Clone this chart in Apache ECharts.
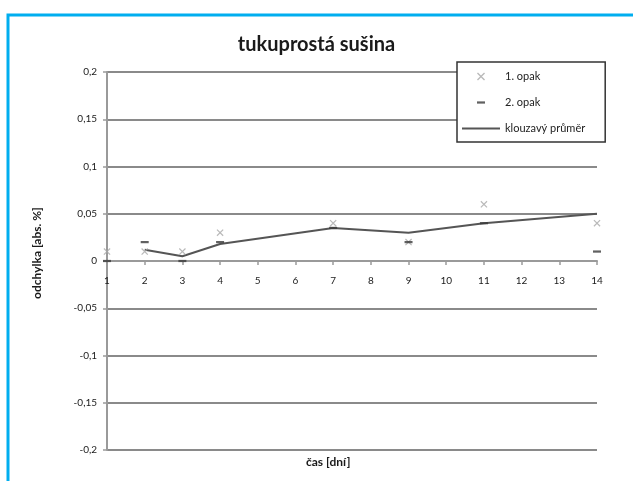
<!DOCTYPE html>
<html>
<head>
<meta charset="utf-8">
<script src="https://cdn.jsdelivr.net/npm/echarts@6/dist/echarts.min.js"></script>
<style>
  html, body { margin: 0; padding: 0; background: #fff; }
  #chart { width: 633px; height: 481px; }
</style>
</head>
<body>
<div id="chart"></div>
<script>
// Measurement days and deviations of the two replicates
const days = [1, 2, 3, 4, 7, 9, 11, 14];
const opak1 = [0.01, 0.01, 0.01, 0.03, 0.04, 0.02, 0.06, 0.04];
const opak2 = [0.0, 0.02, 0.0, 0.02, 0.035, 0.02, 0.04, 0.01];
// Moving average (starts from day 2)
const avgDays = [2, 3, 4, 7, 9, 11, 14];
const avgValues = [0.012, 0.005, 0.018, 0.035, 0.03, 0.04, 0.05];
const yTicks = [-0.2, -0.15, -0.1, -0.05, 0, 0.05, 0.1, 0.15, 0.2];

const pair = (xs, ys) => xs.map((x, i) => [x, ys[i]]);
const fmt = v => String(+(+v).toFixed(2)).replace('.', ',');

const crossPath = 'path://M0,1.2 L1.2,0 L10,8.8 L8.8,10 Z M8.8,0 L10,1.2 L1.2,10 L0,8.8 Z';
const dashPath = 'path://M0,0 M10,10 M0,3.6 L10,3.6 L10,6.4 L0,6.4 Z';
const lineIcon = 'path://M0,0 L38,0 L38,2.2 L0,2.2 Z';

// Plot area geometry; the x axis sits on the zero line in the middle
const GRID = { left: 107, right: 36, top: 72, bottom: 31 };
const plotHeight = 481 - GRID.top - GRID.bottom;
const yMin = yTicks[0], yMax = yTicks[yTicks.length - 1];
const zeroOffset = -plotHeight * (0 - yMin) / (yMax - yMin);

const chart = echarts.init(document.getElementById('chart'), null, { renderer: 'canvas' });
const FONT = 'Lato, "Open Sans", sans-serif';

chart.setOption({
  backgroundColor: '#ffffff',
  animation: false,
  textStyle: { fontFamily: FONT },
  title: {
    text: 'tukuprostá sušina',
    left: 'center',
    top: 30,
    textStyle: { fontFamily: FONT, fontSize: 20, fontWeight: 'bold', color: '#1a1a1a' }
  },
  grid: Object.assign({ containLabel: false }, GRID),
  legend: {
    orient: 'vertical',
    left: 457,
    top: 62,
    padding: [9, 20, 8, 5],
    itemWidth: 38,
    itemHeight: 8,
    itemGap: 15,
    backgroundColor: '#ffffff',
    borderColor: '#333333',
    borderWidth: 1.5,
    borderRadius: 0,
    textStyle: { fontFamily: FONT, fontSize: 11, color: '#222' },
    data: [
      { name: '1. opak' },
      { name: '2. opak' },
      { name: 'klouzavý průměr', icon: lineIcon }
    ]
  },
  xAxis: {
    type: 'value',
    min: 1,
    max: 14,
    interval: 1,
    position: 'bottom',
    offset: zeroOffset,
    axisLine: { onZero: false, lineStyle: { color: '#9a9a9a', width: 2 } },
    axisTick: { show: true, length: 4, lineStyle: { color: '#9a9a9a', width: 1.5 } },
    axisLabel: { margin: 15, fontFamily: FONT, fontSize: 10, color: '#1a1a1a' },
    splitLine: { show: false }
  },
  yAxis: {
    type: 'value',
    min: yMin,
    max: yMax,
    interval: 0.05,
    name: 'odchylka [abs. %]',
    nameLocation: 'middle',
    nameGap: 64,
    nameTextStyle: { fontFamily: FONT, fontSize: 12, fontWeight: 'bold', color: '#1a1a1a', padding: [0, 0, 0, 16] },
    axisLine: { show: true, lineStyle: { color: '#9a9a9a', width: 2 } },
    axisTick: { show: true, length: 4, lineStyle: { color: '#9a9a9a', width: 1.5 } },
    axisLabel: { margin: 10, fontFamily: FONT, fontSize: 10, color: '#1a1a1a', formatter: fmt },
    splitLine: { show: true, lineStyle: { color: '#8a8a8a', width: 2 } }
  },
  series: [
    {
      name: '1. opak',
      type: 'scatter',
      data: pair(days, opak1),
      symbol: crossPath,
      symbolSize: 7,
      itemStyle: { color: '#a8a8a8' },
      z: 3
    },
    {
      name: '2. opak',
      type: 'scatter',
      data: pair(days, opak2),
      symbol: dashPath,
      symbolSize: 8,
      itemStyle: { color: '#3a3a3a' },
      z: 4
    },
    {
      name: 'klouzavý průměr',
      type: 'line',
      data: pair(avgDays, avgValues),
      symbol: 'none',
      lineStyle: { color: '#555555', width: 2 },
      itemStyle: { color: '#555555' },
      z: 2
    }
  ],
  graphic: [
    {
      type: 'polyline',
      shape: { points: [[8, 481], [8, 15], [633, 15]] },
      style: { stroke: '#00aeef', lineWidth: 3, fill: null },
      silent: true
    },
    {
      type: 'text',
      left: 306,
      top: 456,
      style: { text: 'čas [dní]', font: 'bold 12px ' + FONT, fill: '#1a1a1a' }
    }
  ]
});
</script>
</body>
</html>
